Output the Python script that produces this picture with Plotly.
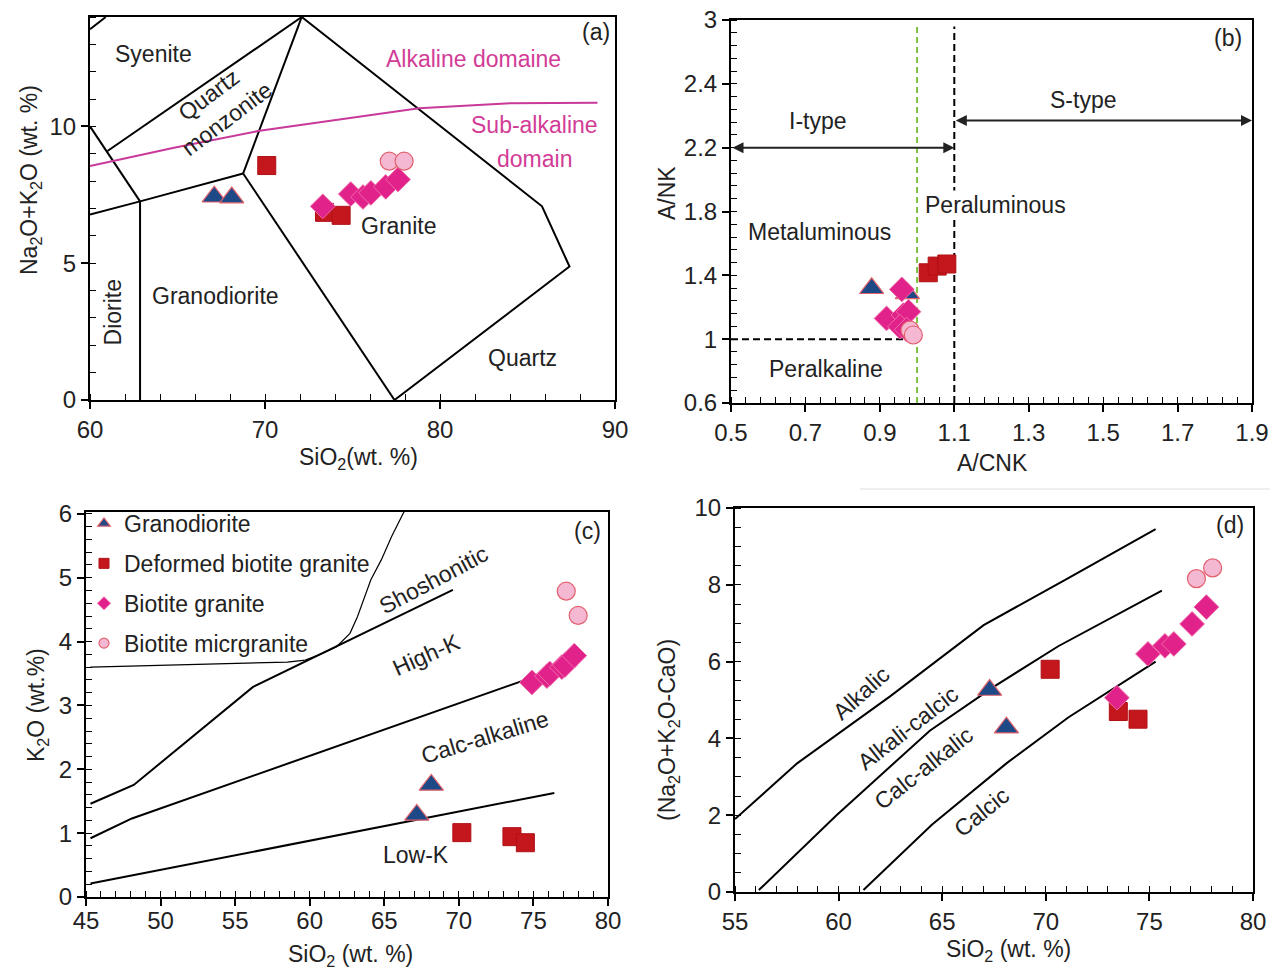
import plotly.graph_objects as go

FONT = "Liberation Sans, Arial, sans-serif"
FS = 23

# ---------------- sample data ----------------
# (a) SiO2 vs Na2O+K2O
a_gd_sio2 = [67.1, 68.1]
a_gd_alk = [7.43, 7.40]
a_dbg_sio2 = [70.1, 73.4, 74.35]
a_dbg_alk = [8.57, 6.86, 6.75]
a_bg_sio2 = [73.3, 74.9, 75.6, 76.05, 76.9, 77.6]
a_bg_alk = [7.08, 7.53, 7.42, 7.57, 7.79, 8.06]
a_bmg_sio2 = [77.1, 77.95]
a_bmg_alk = [8.73, 8.73]

# (b) A/CNK vs A/NK
b_gd_acnk = [0.878, 0.974]
b_gd_ank = [1.319, 1.287]
b_dbg_acnk = [1.030, 1.054, 1.080]
b_dbg_ank = [1.416, 1.458, 1.471]
b_bg_acnk = [0.959, 0.918, 0.963, 0.977, 0.954, 0.972]
b_bg_ank = [1.312, 1.130, 1.151, 1.172, 1.078, 1.060]
b_bmg_acnk = [0.981, 0.990]
b_bmg_ank = [1.057, 1.026]

# (c) SiO2 vs K2O
c_gd_sio2 = [68.15, 67.18]
c_gd_k2o = [1.755, 1.285]
c_dbg_sio2 = [70.2, 73.56, 74.46]
c_dbg_k2o = [1.008, 0.945, 0.85]
c_bg_sio2 = [74.9, 75.9, 76.1, 76.9, 77.1, 77.74]
c_bg_k2o = [3.36, 3.46, 3.50, 3.60, 3.63, 3.78]
c_bmg_sio2 = [77.2, 78.0]
c_bmg_k2o = [4.79, 4.41]

# (d) SiO2 vs Na2O+K2O-CaO
d_gd_sio2 = [67.29, 68.1]
d_gd_mali = [5.26, 4.28]
d_dbg_sio2 = [70.21, 73.5, 74.45]
d_dbg_mali = [5.80, 4.70, 4.50]
d_bg_sio2 = [73.43, 74.93, 75.75, 76.18, 77.06, 77.75]
d_bg_mali = [5.06, 6.20, 6.41, 6.46, 6.98, 7.42]
d_bmg_sio2 = [77.27, 78.05]
d_bmg_mali = [8.16, 8.44]

# ---------------- field boundaries ----------------
# (a) plutonic classification
a_bounds = [
    ([60.0, 60.9], [13.55, 14.0]),
    ([61.0, 72.1], [9.1, 14.0]),
    ([60.0, 62.86], [10.0, 7.26]),
    ([60.0, 62.86, 68.75], [6.78, 7.26, 8.28]),
    ([62.86, 62.86], [7.26, 0.0]),
    ([68.75, 72.1], [8.28, 14.0]),
    ([68.75, 77.4], [8.28, 0.0]),
    ([72.1, 85.83, 87.4, 77.4], [14.0, 7.08, 4.88, 0.0]),
]
a_alk_sio2 = [60.0, 64.8, 69.6, 74.0, 78.8, 84.0, 89.0]
a_alk_val = [8.55, 9.22, 9.83, 10.22, 10.66, 10.85, 10.87]

# (c) K2O series boundaries
c_lowk = ([45.3, 76.4], [0.21, 1.63])
c_calc = ([45.3, 48.08, 78.1], [0.92, 1.23, 3.70])
c_highk = ([45.3, 48.2, 56.2, 69.6], [1.46, 1.755, 3.29, 4.81])
c_shosh = ([45.3, 52.7, 58.5, 59.7, 60.8, 61.8, 62.7, 63.2, 64.1, 64.8, 65.5, 66.4],
           [3.60, 3.65, 3.68, 3.71, 3.81, 3.92, 4.13, 4.39, 4.97, 5.28, 5.65, 6.07])

# (d) MALI boundaries
d_alkalic = ([55.0, 58.0, 62.5, 67.0, 71.0, 75.3], [1.9, 3.35, 5.1, 6.95, 8.15, 9.45])
d_alkcalc = ([56.15, 59.9, 64.4, 67.5, 70.6, 75.6], [0.05, 2.0, 4.2, 5.35, 6.4, 7.85])
d_calcalk = ([61.2, 64.5, 68.1, 71.1, 75.3], [0.05, 1.75, 3.35, 4.55, 6.0])

# ---------------- styles ----------------
STYLES = {
    "gd": dict(symbol="triangle-up", size=21, color="#1d4a86", line=dict(color="#e0606a", width=1.2)),
    "dbg": dict(symbol="square", size=18, color="#c4171d", line=dict(color="#b01015", width=1)),
    "bg": dict(symbol="diamond", size=19, color="#e0228a", line=dict(color="#f06aa8", width=1)),
    "bmg": dict(symbol="circle", size=18, color="#f5b8d3", line=dict(color="#e2606e", width=1.2)),
}
NAMES = {
    "gd": "Granodiorite",
    "dbg": "Deformed biotite granite",
    "bg": "Biotite granite",
    "bmg": "Biotite micrgranite",
}

fig = go.Figure()


def line(xs, ys, ax, width=2.0, color="black", dash=None):
    fig.add_trace(go.Scatter(x=xs, y=ys, mode="lines", xaxis="x" + ax, yaxis="y" + ax,
                             line=dict(color=color, width=width, dash=dash),
                             showlegend=False, hoverinfo="skip"))


def pts(xs, ys, key, ax):
    fig.add_trace(go.Scatter(x=xs, y=ys, mode="markers", xaxis="x" + ax, yaxis="y" + ax,
                             marker=STYLES[key], showlegend=False, name=NAMES[key]))


# panel (a)
for xs, ys in a_bounds:
    line(xs, ys, "")
line(a_alk_sio2, a_alk_val, "", width=2.0, color="#c8399a")
pts(a_gd_sio2, a_gd_alk, "gd", "")
pts(a_dbg_sio2, a_dbg_alk, "dbg", "")
pts(a_bg_sio2, a_bg_alk, "bg", "")
pts(a_bmg_sio2, a_bmg_alk, "bmg", "")

# panel (b)
line([1.1, 1.1], [0.6, 2.96], "2", width=2, dash="7px,4px")
line([1.0, 1.0], [0.6, 2.96], "2", width=2, color="#7dc242", dash="6px,4px")
line([0.5, 0.99], [1.0, 1.0], "2", width=2, dash="7px,4px")
pts(b_gd_acnk, b_gd_ank, "gd", "2")
pts(b_dbg_acnk, b_dbg_ank, "dbg", "2")
pts(b_bg_acnk, b_bg_ank, "bg", "2")
pts(b_bmg_acnk, b_bmg_ank, "bmg", "2")

# panel (c)
line(*c_lowk, "3")
line(*c_calc, "3")
line(*c_highk, "3")
line(*c_shosh, "3", width=1.2)
pts(c_gd_sio2, c_gd_k2o, "gd", "3")
pts(c_dbg_sio2, c_dbg_k2o, "dbg", "3")
pts(c_bg_sio2, c_bg_k2o, "bg", "3")
pts(c_bmg_sio2, c_bmg_k2o, "bmg", "3")

# legend entries (small symbols)
for key in ["gd", "dbg", "bg", "bmg"]:
    st = dict(STYLES[key])
    st["size"] = 11 if key == "gd" else 10
    fig.add_trace(go.Scatter(x=[None], y=[None], mode="markers", xaxis="x3", yaxis="y3",
                             marker=st, name=NAMES[key], legendgroup=key, showlegend=True))

# panel (d)
line(*d_alkalic, "4")
line(*d_alkcalc, "4")
line(*d_calcalk, "4")
pts(d_gd_sio2, d_gd_mali, "gd", "4")
pts(d_dbg_sio2, d_dbg_mali, "dbg", "4")
pts(d_bg_sio2, d_bg_mali, "bg", "4")
pts(d_bmg_sio2, d_bmg_mali, "bmg", "4")


def axis(domain, rng, dtick, mdtick, tick0=None, **kw):
    d = dict(domain=domain, range=rng, showgrid=False, zeroline=False, automargin=False,
             showline=True, linecolor="black", linewidth=2, mirror=True,
             ticks="outside", ticklen=7, tickwidth=1.5, tickcolor="black",
             tickfont=dict(family=FONT, size=24, color="#222"),
             dtick=dtick,
             minor=dict(ticks="inside", ticklen=6, tickwidth=1.2, tickcolor="black",
                        dtick=mdtick, showgrid=False))
    if tick0 is not None:
        d["tick0"] = tick0
        d["minor"]["tick0"] = tick0
    d.update(kw)
    return d


W, H = 1279, 971


def px(x0, x1):
    return [x0 / W, x1 / W]


def py(top, bottom):
    return [1 - bottom / H, 1 - top / H]


fig.update_layout(
    width=W, height=H, margin=dict(l=0, r=0, t=0, b=0, autoexpand=False),
    paper_bgcolor="white", plot_bgcolor="white",
    font=dict(family=FONT, size=FS, color="#222"),
    xaxis=axis(px(90, 615), [60, 90], 10, 2, anchor="y"),
    yaxis=axis(py(17, 400), [0, 14], 5, 1, tick0=0, anchor="x"),
    xaxis2=axis(px(731, 1252), [0.5, 1.9], 0.2, 0.04, tick0=0.5, anchor="y2",
                tickformat=".1f"),
    yaxis2=axis(py(20, 403), [0.6, 3.0], None, 0.08, tick0=0.6, anchor="x2",
                tickvals=[0.6, 1.0, 1.4, 1.8, 2.2, 2.6, 3.0],
                ticktext=["0.6", "1", "1.4", "1.8", "2.2", "2.4", "3"]),
    xaxis3=axis(px(86, 608), [45, 80], 5, 1, anchor="y3", ticklabelstandoff=-6),
    yaxis3=axis(py(512, 897), [0, 6.03], 1, 0.2, tick0=0, anchor="x3"),
    xaxis4=axis(px(735, 1253), [55, 80], 5, 1, anchor="y4"),
    yaxis4=axis(py(508, 892), [0, 10], 2, 0.5, tick0=0, anchor="x4"),
    legend=dict(x=84 / W, y=1 - 502 / H, xanchor="left", yanchor="top",
                bgcolor="rgba(0,0,0,0)", font=dict(family=FONT, size=FS, color="#222"),
                tracegroupgap=7, itemwidth=30),
    showlegend=True,
)

ann = []


def label(x, y, text, ax, angle=0, color="#222", size=FS, bg=None):
    a = dict(x=x, y=y, xref="x" + ax, yref="y" + ax, text=text, showarrow=False,
             xanchor="center", yanchor="middle",
             textangle=angle, font=dict(family=FONT, size=size, color=color))
    if bg:
        a["bgcolor"] = bg
    ann.append(a)


def ptext(x, y, text, angle=0, size=FS):
    ann.append(dict(x=x / W, y=1 - y / H, xref="paper", yref="paper", text=text,
                    showarrow=False, textangle=angle, xanchor="center", yanchor="middle",
                    font=dict(family=FONT, size=size, color="#222")))


MAG = "#d23c96"
# (a)
label(63.6, 12.64, "Syenite", "")
label(67.3, 10.7, "Quartz<br>monzonite", "", angle=-37)
label(81.9, 12.45, "Alkaline domaine", "", color=MAG)
label(85.4, 10.04, "Sub-alkaline", "", color=MAG)
label(85.4, 8.8, "domain", "", color=MAG)
label(77.64, 6.37, "Granite", "")
label(67.17, 3.81, "Granodiorite", "")
label(61.3, 3.19, "Diorite", "", angle=-90)
label(84.7, 1.54, "Quartz", "")
label(88.9, 13.44, "(a)", "")
# (b)
label(0.734, 2.37, "I-type", "2")
label(1.446, 2.50, "S-type", "2")
label(0.737, 1.67, "Metaluminous", "2")
label(1.21, 1.84, "Peraluminous", "2", bg="white")
label(0.755, 0.81, "Peralkaline", "2")
label(1.835, 2.89, "(b)", "2")
for x0, x1, yy in [(0.5, 1.1, 2.2), (1.1, 1.9, 2.37)]:
    ann.append(dict(x=x1, y=yy, ax=x0, ay=yy, xref="x2", yref="y2", axref="x2", ayref="y2",
                    text="", showarrow=True, arrowhead=2, arrowside="end+start",
                    arrowsize=1.1, arrowwidth=2, arrowcolor="#222", standoff=0, startstandoff=0))
# (c)
label(68.27, 4.97, "Shoshonitic", "3", angle=-28)
label(67.8, 3.79, "High-K", "3", angle=-24)
label(71.75, 2.51, "Calc-alkaline", "3", angle=-17)
label(67.1, 0.66, "Low-K", "3")
label(78.6, 5.73, "(c)", "3")
# (d)
label(61.1, 5.18, "Alkalic", "4", angle=-42)
label(63.35, 4.26, "Alkali-calcic", "4", angle=-38)
label(64.12, 3.22, "Calc-alkalic", "4", angle=-38)
label(66.9, 2.09, "Calcic", "4", angle=-39)
label(78.9, 9.57, "(d)", "4")

# axis titles
ptext(358, 458, "SiO<sub>2</sub>(wt. %)")
ptext(30, 180, "Na<sub>2</sub>O+K<sub>2</sub>O (wt. %)", angle=-90)
ptext(992, 463, "A/CNK")
ptext(667, 193, "A/NK", angle=-90)
ptext(350, 955, "SiO<sub>2</sub> (wt. %)")
ptext(37, 705, "K<sub>2</sub>O (wt.%)", angle=-90)
ptext(1008, 950, "SiO<sub>2</sub> (wt. %)")
ptext(668, 730, "(Na<sub>2</sub>O+K<sub>2</sub>O-CaO)", angle=-90)

fig.update_layout(annotations=ann)
fig.add_shape(type="line", xref="paper", yref="paper", x0=860 / W, x1=1270 / W,
              y0=1 - 489 / H, y1=1 - 489 / H, line=dict(color="#dddddd", width=1))

fig.write_html("out.html")
